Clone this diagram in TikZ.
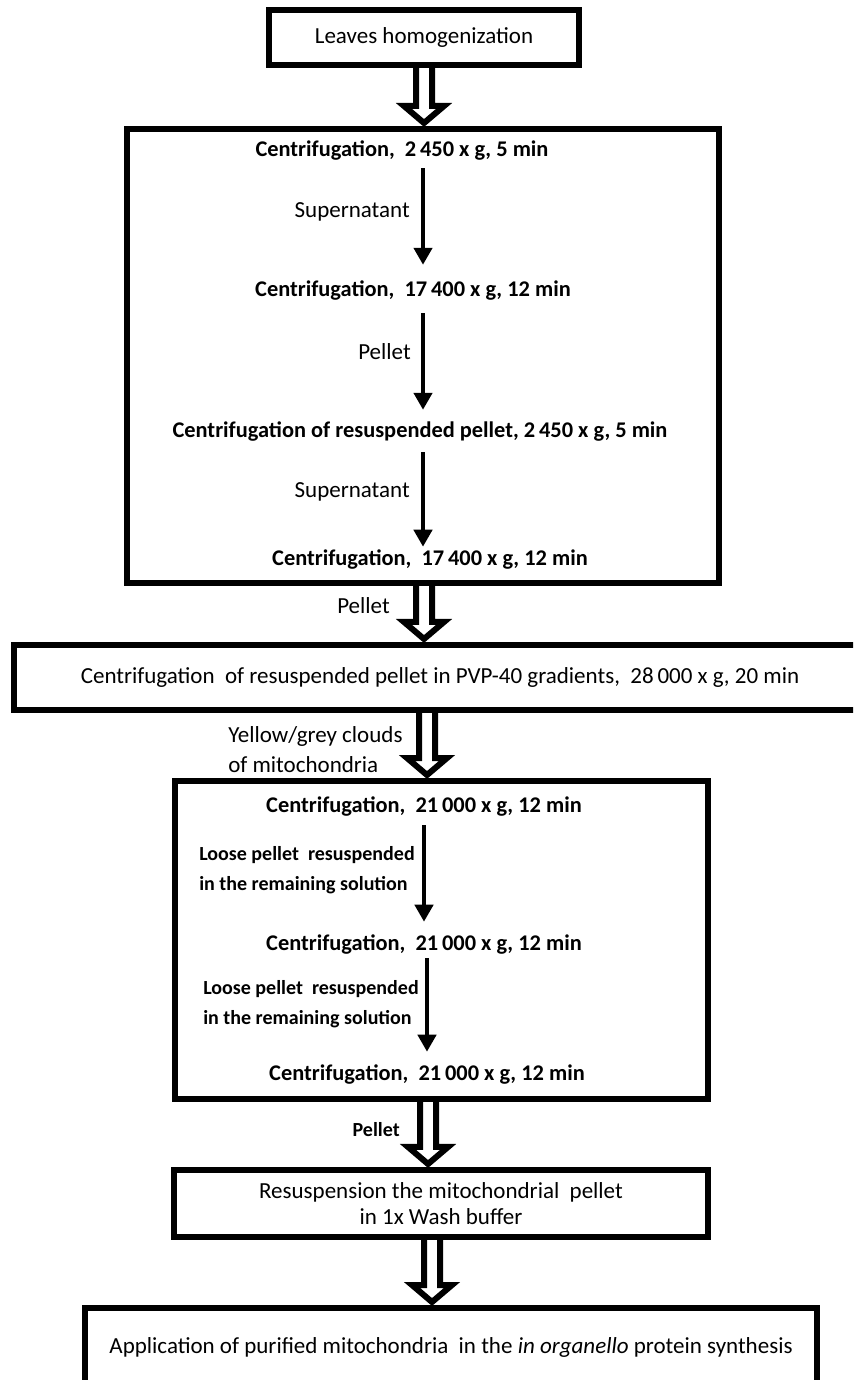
\documentclass[tikz,border=0pt]{standalone}
\usepackage{fontspec}
\setmainfont{Carlito}
\usetikzlibrary{positioning}
\usetikzlibrary{arrows.meta}
\usetikzlibrary{calc}

\begin{document}
\begin{tikzpicture}[
x=0.75pt, y=-0.75pt,
font=\fontsize{17.25}{21}\selectfont,
hollow/.style={draw, fill=white, line width=4.5pt,
  to path={let \p1=(\tikztostart), \p2=(\tikztotarget) in
    (\x1-6pt,\y1) -- (\x1-6pt,\y2+15pt) -- (\x1-15pt,\y2+15pt) -- (\x1,\y2+2.25pt)
    -- (\x1+15pt,\y2+15pt) -- (\x1+6pt,\y2+15pt) -- (\x1+6pt,\y1)}}
]

\tikzstyle{box} = [draw, line width=4.8pt, inner sep=0pt, align=center]
\tikzstyle{stage} = [font=\bfseries\fontsize{16.8}{20}\selectfont, inner sep=0pt, text height=11pt, text depth=3.5pt]
\tikzstyle{lab} = [inner sep=0pt, align=left]
\tikzstyle{small} = [lab, font=\bfseries\fontsize{15}{22.5}\selectfont]
\tikzstyle{flow} = [line width=3.4pt, -{Triangle[length=12.75pt,width=13.5pt]}]

\useasboundingbox (0,0) rectangle (853,1380);
\clip (0,0) rectangle (853,1380);

% boxes
\node[box, minimum width=232.2pt, minimum height=41pt] (b1) at (424,37.5) {Leaves homogenization};
\node[box, minimum width=443.7pt, minimum height=340.2pt] (b2) at (423,356) {};
\node[box, minimum width=638.7pt, minimum height=48.5pt] (b3) at (440,677.5)
  {Centrifugation\ \ of resuspended pellet in PVP-40 gradients,\ \ 28\,000 x g, 20 min};
\node[box, minimum width=399.5pt, minimum height=238.2pt] (b4) at (441.5,940) {};
\node[box, minimum width=400.2pt, minimum height=50pt, font=\fontsize{17.25}{19.5}\selectfont] (b5) at (441,1203.5)
  {Resuspension the mitochondrial\ \ pellet\\in 1x Wash buffer};
\node[box, minimum width=548.7pt, minimum height=58.2pt] (b6) at (451,1347)
  {Application of purified mitochondria\ \ in the \textit{in organello} protein synthesis};

% first series
\node[stage] (c1) at (402,152) {Centrifugation,\ \ 2\,450 x g, 5 min};
\node[stage] (c2) at (413,291) {Centrifugation,\ \ 17\,400 x g, 12 min};
\node[stage] (c3) at (420,432) {Centrifugation of resuspended pellet, 2\,450 x g, 5 min};
\node[stage] (c4) at (430,560) {Centrifugation,\ \ 17\,400 x g, 12 min};
\draw[flow, shorten <=4.7pt, shorten >=12.2pt] (c1.south -| b2.center) -- (c2.north -| b2.center);
\draw[flow, shorten <=9.2pt, shorten >=9.2pt] (c2.south -| b2.center) -- (c3.north -| b2.center);
\draw[flow, shorten <=7.7pt, shorten >=2.5pt] (c3.south -| b2.center) -- (c4.north -| b2.center);

% second series
\node[stage] (c5) at (424,807) {Centrifugation,\ \ 21\,000 x g, 12 min};
\node[stage] (c6) at (424,945) {Centrifugation,\ \ 21\,000 x g, 12 min};
\node[stage] (c7) at (427,1075) {Centrifugation,\ \ 21\,000 x g, 12 min};
\draw[flow, shorten <=6.2pt, shorten >=10pt] (c5.south) -- (c5.south |- c6.north);
\draw[flow, shorten <=2.5pt, shorten >=10pt] (c6.south -| c7.north) -- (c7.north);

% big arrows
\draw[hollow] (b1.south) to (b2.north);
\draw[hollow] ([xshift=0.75pt]b2.south) to (b3.north);
\draw[hollow] ([xshift=-9.75pt]b3.south) to (b4.north);
\draw[hollow] ([xshift=-10.1pt]b4.south) to (b5.north);
\draw[hollow] ([xshift=-6.75pt]b5.south) to (b6.north);

% arrow labels
\node[lab, anchor=east] (s1) at (410,212) {Supernatant};
\node[lab, anchor=east] (p1) at (411,352) {Pellet};
\node[lab, anchor=east] (s2) at (410,492) {Supernatant};
\node[lab, anchor=east] (p2) at (390,606) {Pellet};
\node[lab, anchor=west, font=\fontsize{17.25}{22.5}\selectfont] (y1) at (228,750) {Yellow/grey clouds\\of mitochondria};
\node[small, anchor=west] (l1) at (199,870) {Loose pellet\ \ resuspended\\in the remaining solution};
\node[small, anchor=west] (l2) at (203,1004) {Loose pellet\ \ resuspended\\in the remaining solution};
\node[small, anchor=east] (p3) at (400,1130) {Pellet};
\end{tikzpicture}
\end{document}
